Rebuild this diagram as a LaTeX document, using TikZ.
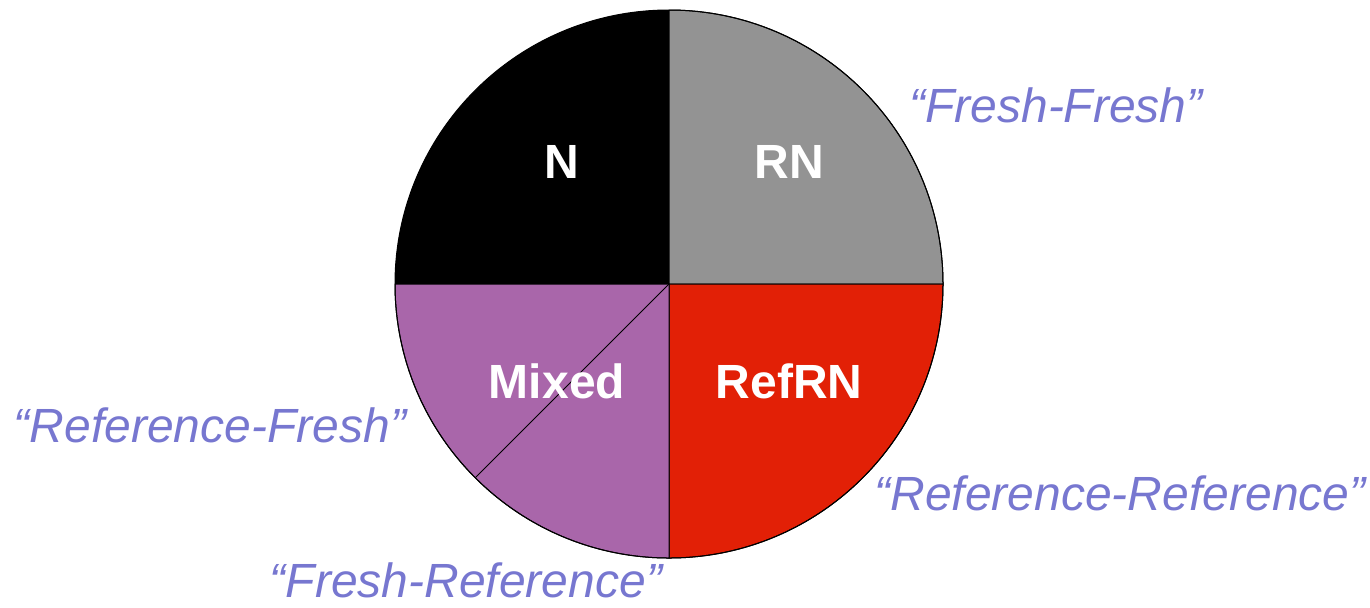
\documentclass[tikz,border=0pt]{standalone}
\usepackage{fontspec}
\setmainfont{Liberation Sans}
\definecolor{cgray}{HTML}{939393}
\definecolor{cred}{HTML}{E22006}
\definecolor{cpurple}{HTML}{A966AA}
\definecolor{clabel}{HTML}{7777D0}
\begin{document}
\begin{tikzpicture}[x=0.5pt,y=-0.5pt,
  sector/.style={draw=black,line width=0.5pt,line join=round},
  seclabel/.style={text=white,font=\fontsize{24}{28}\selectfont\bfseries,inner sep=0pt},
  quote/.style={text=clabel,font=\fontsize{24}{28}\selectfont\itshape,inner sep=0pt}]
\useasboundingbox (0,0) rectangle (1370,607);
\coordinate (c) at (669,284);
% sectors (radius 274 px = 137pt)
\fill[black] (c) -- ++(-274,0) arc[start angle=180,end angle=90,radius=137pt] -- cycle;
\filldraw[sector,fill=cgray] (c) -- ++(0,-274) arc[start angle=90,end angle=0,radius=137pt] -- cycle;
\filldraw[sector,fill=cred] (c) -- ++(274,0) arc[start angle=0,end angle=-90,radius=137pt] -- cycle;
\filldraw[sector,fill=cpurple] (c) -- ++(0,274) arc[start angle=270,end angle=180,radius=137pt] -- cycle;
\draw[sector] (c) -- ++(225:137pt);
\draw[sector] (c) circle[radius=137pt];
% sector labels
\node[seclabel] (n) at (562,162) {N};
\node[seclabel] (rn) at (789,162) {RN};
\node[seclabel] (mixed) at (557,381) {Mixed};
\node[seclabel] (refrn) at (789,381) {RefRN};
% quoted labels
\node[quote] (ff) at (1056,105) {“Fresh-Fresh”};
\node[quote] (rf) at (210,425) {“Reference-Fresh”};
\node[quote] (rr) at (1120,493) {“Reference-Reference”};
\node[quote] (fr) at (466,580) {“Fresh-Reference”};
\end{tikzpicture}
\end{document}
